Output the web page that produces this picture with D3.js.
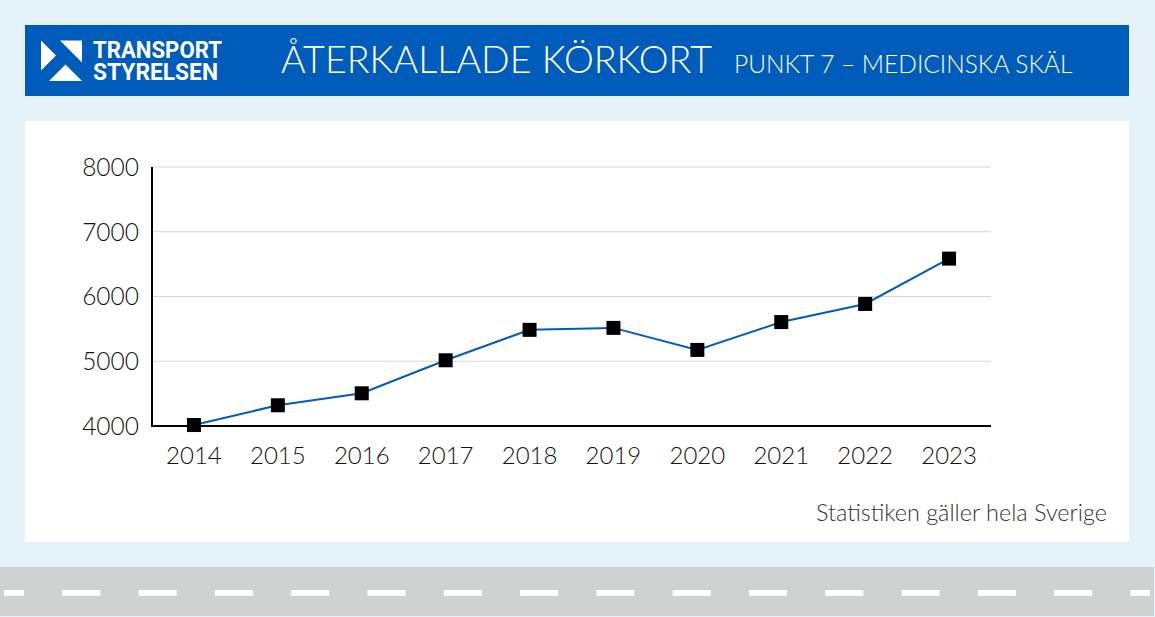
<!DOCTYPE html>
<html><head><meta charset="utf-8">
<script src="https://cdn.jsdelivr.net/npm/d3@7"></script>
<style>html,body{margin:0;padding:0;background:#e5f3f9;overflow:hidden}svg{display:block}text{font-family:Lato,"Open Sans",sans-serif}</style>
</head><body><script>
const years=["2014","2015","2016","2017","2018","2019","2020","2021","2022","2023"];
const values=[4015,4320,4505,5015,5485,5515,5175,5605,5885,6585];
const yTicks=[4000,5000,6000,7000,8000];
const title="ÅTERKALLADE KÖRKORT";
const subtitle="PUNKT 7 – MEDICINSKA SKÄL";
const note="Statistiken gäller hela Sverige";
const logoLines=["TRANSPORT","STYRELSEN"];
const logoWidths=[129,125];

const W=1155,H=617;
const svg=d3.select("body").append("svg").attr("width",W).attr("height",H);
svg.append("rect").attr("width",W).attr("height",H).attr("fill","#e5f3f9");
svg.append("rect").attr("x",25).attr("y",25).attr("width",1104).attr("height",71).attr("fill","#005cbb");
svg.append("rect").attr("x",25).attr("y",121).attr("width",1104).attr("height",421).attr("fill","#fff");

// road
svg.append("rect").attr("x",0).attr("y",567).attr("width",1154).attr("height",49).attr("fill","#d0d2d1");
const dashX=d3.range(-14,1150,76.3);
svg.selectAll("rect.dash").data(dashX).join("rect").attr("class","dash")
  .attr("x",d=>Math.max(d,4)).attr("y",590).attr("height",6)
  .attr("width",d=>Math.min(d+38,1150)-Math.max(d,4)).attr("fill","#fff");

// logo
const logo=svg.append("g").attr("fill","#fff");
logo.append("path").attr("d","M41 40.5L56 55.5L41 70.5Z");
logo.append("path").attr("d","M60 40.5H82V62.5Z");
logo.append("path").attr("d","M49 81L65.5 64.5L82 81Z");
logo.selectAll("text").data(logoLines).join("text")
  .attr("x",93).attr("y",(d,i)=>58+i*22)
  .attr("font-size",23.5).attr("font-weight",700)
  .attr("textLength",(d,i)=>logoWidths[i]).attr("lengthAdjust","spacingAndGlyphs")
  .style("font-family","Roboto").text(d=>d);

svg.append("text").attr("x",281).attr("y",73).attr("fill","#fff").attr("font-size",37.7).attr("font-weight",300).text(title);
svg.append("text").attr("x",734).attr("y",73).attr("fill","#fff").attr("font-size",24.5).attr("font-weight",300).text(subtitle);

// chart
const x=d3.scaleBand().domain(years).range([152,991]);
const y=d3.scaleLinear().domain([4000,8000]).range([426,167]);

const yAxis=d3.axisLeft(y).tickValues(yTicks).tickFormat(d3.format("d")).tickSize(0).tickPadding(13);
const yg=svg.append("g").attr("transform","translate(152,0)").call(yAxis);
yg.select(".domain").remove();
yg.selectAll("text").attr("font-size",24.5).attr("font-weight",300).attr("fill","#111").attr("dy","0.34em");

svg.append("g").selectAll("line").data(yTicks.slice(1)).join("line")
  .attr("x1",152).attr("x2",991).attr("y1",d=>y(d)).attr("y2",d=>y(d))
  .attr("stroke","#d6d6d6").attr("stroke-width",1);

const xAxis=d3.axisBottom(x).tickSize(0).tickPadding(21);
const xg=svg.append("g").attr("transform","translate(0,426)").call(xAxis);
xg.select(".domain").remove();
xg.selectAll("text").attr("font-size",24).attr("font-weight",300).attr("fill","#111");

svg.append("line").attr("x1",152).attr("x2",152).attr("y1",167).attr("y2",427).attr("stroke","#000").attr("stroke-width",2);
svg.append("line").attr("x1",151).attr("x2",991).attr("y1",426).attr("y2",426).attr("stroke","#000").attr("stroke-width",2);

const cx=d=>x(d)+x.bandwidth()/2;
const line=d3.line().x((d,i)=>cx(years[i])).y(d=>y(d));
svg.append("path").datum(values).attr("d",line).attr("fill","none").attr("stroke","#005cbb").attr("stroke-width",2);
svg.selectAll("rect.pt").data(values).join("rect").attr("class","pt")
  .attr("x",(d,i)=>cx(years[i])-7).attr("y",d=>y(d)-7).attr("width",14).attr("height",14).attr("fill","#000");

svg.append("text").attr("x",1107).attr("y",521).attr("text-anchor","end").attr("font-size",23.4).attr("font-weight",300).attr("fill","#333").text(note);
</script></body></html>
